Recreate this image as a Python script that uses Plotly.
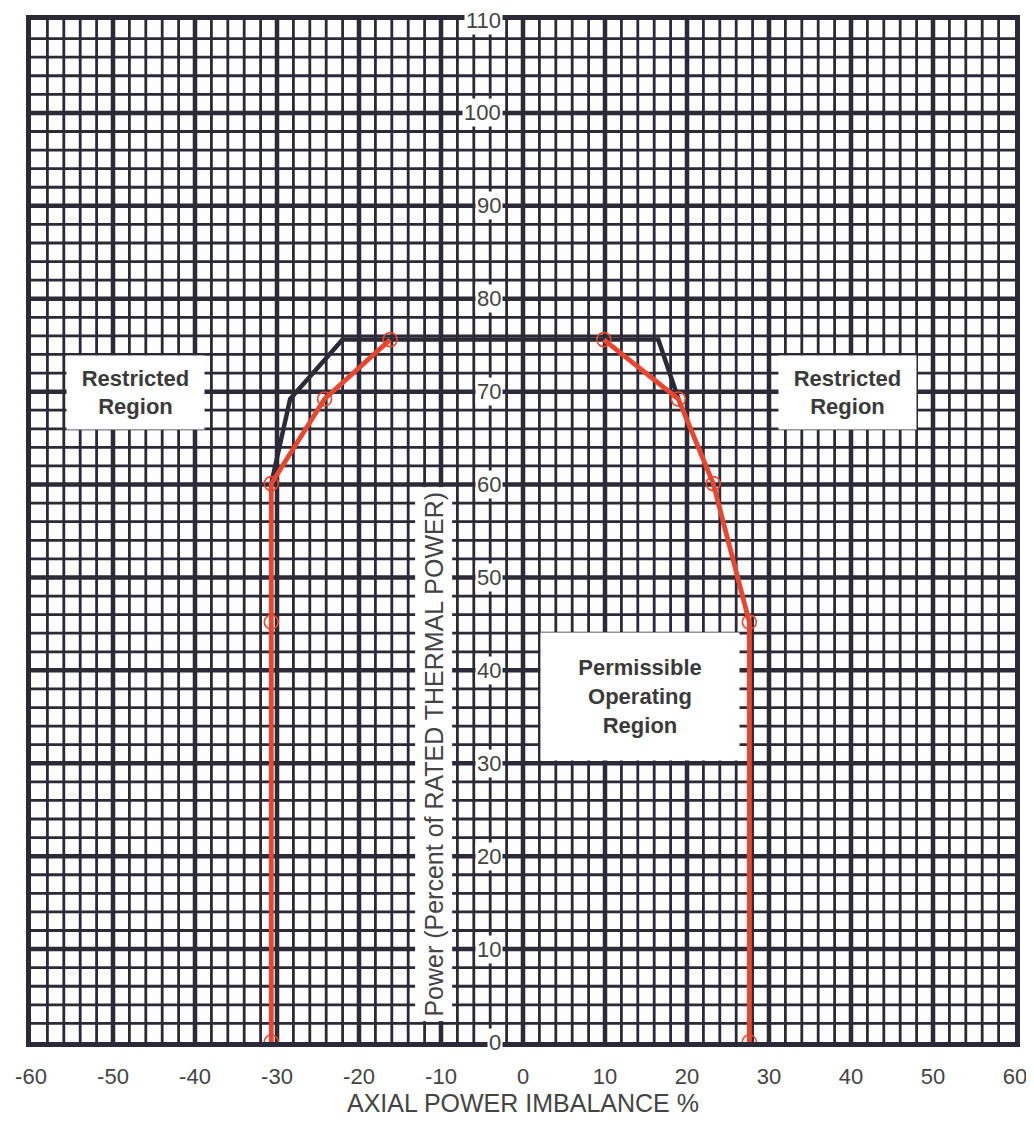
import plotly.graph_objects as go

# ---- data ----
x_ticks = [-60, -50, -40, -30, -20, -10, 0, 10, 20, 30, 40, 50, 60]
x_tick_text = ["-60", "-50", "-40", "-30", "-20", "-10", "0", "10", "20", "30", "40", "50", "60"]
y_ticks = [0, 10, 20, 30, 40, 50, 60, 70, 80, 90, 100, 110]

# black (limit) envelope
black_x = [-30.7, -28.4, -22.0, 16.5, 18.95]
black_y = [60.1, 69.2, 75.6, 75.6, 69.2]

# red operating limit, left branch
red_left_x = [-30.7, -30.7, -30.7, -24.2, -16.2]
red_left_y = [0.0, 45.2, 60.1, 69.2, 75.6]

# red operating limit, right branch
red_right_x = [9.85, 18.95, 23.2, 27.6, 27.6]
red_right_y = [75.6, 69.2, 60.1, 45.2, 0.0]

region_labels = ["Restricted<br>Region", "Restricted<br>Region", "Permissible<br>Operating<br>Region"]
region_x = [-47.2, 39.6, 14.3]
region_y = [69.9, 69.9, 37.2]

x_title = "AXIAL POWER IMBALANCE %"
y_title = "Power (Percent of RATED THERMAL POWER)"

# ---- styles ----
FONT = "Arial, Liberation Sans, sans-serif"
GRID = "#2b2a36"
RED = "#e8462e"
BLACK = "#2b2a36"
TXT = "#444444"
X_MIN, X_MAX, Y_MIN, Y_MAX = -60, 60, 0, 110
MINOR_STEP, MAJOR_STEP = 2, 10

fig = go.Figure()

# graph-paper grid (minor lines first, majors on top)
shapes = []
for major in (False, True):
    w = 4.5 if major else 2.8
    for gx in range(X_MIN + MINOR_STEP, X_MAX, MINOR_STEP):
        if (gx % MAJOR_STEP == 0) == major:
            shapes.append(dict(type="line", xref="x", yref="paper", x0=gx, x1=gx,
                               y0=0, y1=1, layer="below",
                               line=dict(color=GRID, width=w)))
    for gy in range(Y_MIN + MINOR_STEP, Y_MAX, MINOR_STEP):
        if (gy % MAJOR_STEP == 0) == major:
            shapes.append(dict(type="line", xref="paper", yref="y", x0=0, x1=1,
                               y0=gy, y1=gy, layer="below",
                               line=dict(color=GRID, width=w)))

fig.add_trace(go.Scatter(x=black_x, y=black_y, mode="lines",
                         line=dict(color=BLACK, width=4.5), hoverinfo="skip",
                         showlegend=False))
for xs, ys in [(red_left_x, red_left_y), (red_right_x, red_right_y)]:
    fig.add_trace(go.Scatter(x=xs, y=ys, mode="lines+markers",
                             line=dict(color=RED, width=4.8),
                             marker=dict(symbol="circle-open", size=14,
                                         color=RED, line=dict(width=1.6)),
                             showlegend=False))

annotations = []
# y tick labels drawn on the zero line with white boxes
for v in y_ticks:
    annotations.append(dict(x=-2.5, y=v, xref="x", yref="y", text=str(v),
                            showarrow=False, xanchor="right", yanchor="middle",
                            font=dict(family=FONT, size=22, color=TXT),
                            bgcolor="#ffffff", borderpad=1))
# y title
annotations.append(dict(x=-10.9, y=31.0, xref="x", yref="y", text=y_title,
                        showarrow=False, textangle=-90, xanchor="center",
                        yanchor="middle",
                        font=dict(family=FONT, size=25, color=TXT),
                        bgcolor="#ffffff", borderpad=4))
# region labels (white boxes)
box_w = [121, 121, 158]
box_h = [57, 57, 87]
box_pad = [8, 8, 20]
for t, xx, yy, bw, bh, p in zip(region_labels, region_x, region_y, box_w, box_h, box_pad):
    annotations.append(dict(x=xx, y=yy, xref="x", yref="y", text="<b>" + t + "</b>",
                            showarrow=False, xanchor="center", yanchor="middle",
                            width=bw, height=bh, align="center", valign="middle",
                            font=dict(family=FONT, size=22, color="#3a3a3a"),
                            bgcolor="#ffffff", borderpad=p))

# page body has an 8px margin; size the figure so the plot lands where the reference has it
fig.update_layout(
    width=1026, height=1112,
    margin=dict(l=19, r=18, t=7, b=73),
    paper_bgcolor="#ffffff", plot_bgcolor="#fdfdfd",
    annotations=annotations, shapes=shapes,
    showlegend=False,
)

fig.update_xaxes(
    range=[X_MIN, X_MAX], tickmode="array", tickvals=x_ticks, ticktext=x_tick_text,
    showgrid=False,
    showline=True, linecolor=GRID, linewidth=5, mirror=True,
    ticks="outside", ticklen=11, tickcolor="rgba(0,0,0,0)",
    tickfont=dict(family=FONT, size=22, color=TXT),
    zeroline=False,
    title=dict(text=x_title, font=dict(family=FONT, size=25, color=TXT), standoff=6),
)
fig.update_yaxes(
    range=[Y_MIN, Y_MAX], tickvals=y_ticks, showticklabels=False,
    showgrid=False,
    showline=True, linecolor=GRID, linewidth=5, mirror=True,
    ticks="", zeroline=False,
)

fig.write_html("out.html")
